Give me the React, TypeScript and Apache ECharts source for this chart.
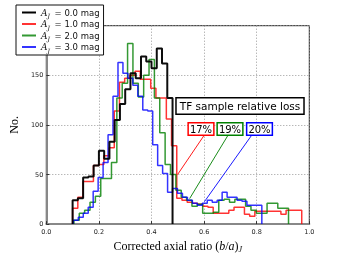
import React, { useEffect, useRef } from 'react';
import * as echarts from 'echarts';

// Histogram bins: start, bin width, counts per bin
const blackStart = 0.1;
const blackWidth = 0.02;
const blackCounts = [24, 26, 47, 48, 59, 74, 66, 83, 105, 121, 136, 152, 147, 169, 164, 157, 177, 162, 127];

const redStart = 0.1;
const redWidth = 0.0198;
const redCounts = [16, 27, 43, 43, 59, 60, 69, 77, 114, 143, 147, 150, 154, 146, 146, 137, 127, 127, 106, 79,
  26, 24, 22, 21, 20, 18, 17, 11, 11, 11, 14, 17, 17, 10, 8, 13, 13, 13, 13, 13, 10, 14, 14, 14];

const greenStart = 0.105;
const greenWidth = 0.0204;
const greenCounts = [4, 11, 14, 22, 28, 46, 46, 62, 127, 142, 182, 142, 128, 150, 166, 127, 92, 60, 50,
  34, 27, 24, 18, 20, 11, 11, 12, 24, 25, 22, 25, 25, 18, 14, 11, 11, 21, 21, 16, 16];

const blueStart = 0.1028;
const blueWidth = 0.01886;
const blueCounts = [4, 7, 11, 17, 33, 47, 62, 90, 129, 163, 152, 147, 140, 129, 115, 114, 80, 59, 51, 32,
  36, 31, 27, 24, 21, 19, 21, 24, 22, 24, 32, 27, 27, 24, 23, 19, 19, 19];

const seriesNames = ['A_J = 0.0 mag', 'A_J = 1.0 mag', 'A_J = 2.0 mag', 'A_J = 3.0 mag'];
const lossLabels = ['17%', '19%', '20%'];
// annotation leader lines in data coordinates: [from box, to histogram]
const redLeader = [[0.6086, 92.8], [0.499, 49.9]];
const greenLeader = [[0.6983, 92.8], [0.545, 25.7]];
const blueLeader = [[0.7895, 92.8], [0.601, 22.5]];

function stepData(start: number, width: number, counts: number[]) {
  const pts: number[][] = [[start, 0]];
  counts.forEach((c, i) => {
    pts.push([start + i * width, c]);
    pts.push([start + (i + 1) * width, c]);
  });
  pts.push([start + counts.length * width, 0]);
  return pts;
}

function leader(pts: number[][], color: string) {
  return {
    silent: true,
    symbol: ['none', 'none'],
    label: { show: false },
    lineStyle: { color, width: 1, type: 'solid', opacity: 0.9 },
    data: [[{ coord: pts[0] }, { coord: pts[1] }]],
  };
}

export default function App() {
  const ref = useRef<HTMLDivElement>(null);
  useEffect(() => {
    document.body.style.margin = '0';
    const chart = echarts.init(ref.current!, undefined, { renderer: 'svg' });
    const serif = 'Liberation Serif';
    const sans = 'DejaVu Sans';
    const mk = (name: string, color: string, width: number, data: number[][], opacity: number, ml?: any) => ({
      name,
      type: 'line',
      data,
      symbol: 'none',
      showSymbol: false,
      lineStyle: { color, width, opacity },
      itemStyle: { color },
      emphasis: { disabled: true },
      markLine: ml,
      z: 2,
    });
    const legendColors = ['#000000', '#ff0000', '#008000', '#0000ff'];
    chart.setOption({
      animation: false,
      grid: { left: 42.5, right: 34.7, top: 25.7, bottom: 26.5, show: true, borderColor: '#222', borderWidth: 1 },
      legend: {
        data: seriesNames.map((n, i) => ({ name: n, icon: 'rect', itemStyle: { color: legendColors[i], opacity: i === 0 ? 1 : 0.8 } })),
        left: 16,
        top: 5,
        orient: 'vertical',
        padding: [3, 4, 2, 6],
        itemGap: 1,
        itemWidth: 14,
        itemHeight: 2,
        backgroundColor: '#fff',
        borderColor: '#111',
        borderWidth: 1,
        borderRadius: 0,
        z: 10,
        formatter: (name: string) => `{a|A}{j|J}{t| = ${name.slice(6)}}`,
        textStyle: {
          fontFamily: sans,
          fontSize: 8.5,
          color: '#111',
          rich: {
            a: { fontFamily: 'DejaVu Serif', fontStyle: 'italic', fontSize: 9, lineHeight: 12, color: '#111' },
            j: { fontFamily: 'DejaVu Serif', fontStyle: 'italic', fontSize: 6, lineHeight: 6, verticalAlign: 'bottom', color: '#111' },
            t: { fontFamily: sans, fontSize: 8.5, lineHeight: 12, color: '#111', padding: [0, 0, 0, 2] },
          },
        },
      },
      xAxis: {
        type: 'value',
        min: 0,
        max: 1,
        interval: 0.2,
        name: '{n|Corrected axial ratio (}{i|b}{n|/}{i|a}{n|)}{s|J}',
        nameLocation: 'middle',
        nameGap: 14,
        nameTextStyle: {
          rich: {
            n: { fontFamily: serif, fontSize: 12, color: '#000', lineHeight: 14 },
            i: { fontFamily: serif, fontStyle: 'italic', fontSize: 12, color: '#000', lineHeight: 14 },
            s: { fontFamily: serif, fontStyle: 'italic', fontSize: 8, color: '#000', lineHeight: 8, verticalAlign: 'bottom' },
          },
        },
        axisLine: { show: true, lineStyle: { color: '#888', width: 2 } },
        axisTick: { show: true, inside: true, length: 3, lineStyle: { color: '#333' } },
        axisLabel: { fontFamily: sans, fontSize: 6.5, color: '#222', margin: 4, formatter: (v: number) => v.toFixed(1) },
        splitLine: { show: true, lineStyle: { color: '#999', type: [1, 2], width: 1 } },
      },
      yAxis: {
        type: 'value',
        min: 0,
        max: 200,
        interval: 50,
        name: 'No.',
        nameLocation: 'middle',
        nameGap: 22,
        nameTextStyle: { fontFamily: serif, fontSize: 12, color: '#000' },
        axisLine: { show: true, lineStyle: { color: '#888', width: 2 } },
        axisTick: { show: true, inside: true, length: 3, lineStyle: { color: '#333' } },
        axisLabel: { fontFamily: sans, fontSize: 6.5, color: '#222', margin: 3, formatter: (v: number) => (v >= 200 ? '' : String(v)) },
        splitLine: { show: true, lineStyle: { color: '#999', type: [1, 2], width: 1 } },
      },
      series: [
        mk(seriesNames[1], '#ff0000', 1.5, stepData(redStart, redWidth, redCounts), 0.8, leader(redLeader, '#ff0000')),
        mk(seriesNames[2], '#008000', 1.5, stepData(greenStart, greenWidth, greenCounts), 0.8, leader(greenLeader, '#008000')),
        mk(seriesNames[3], '#0000ff', 1.5, stepData(blueStart, blueWidth, blueCounts), 0.8, leader(blueLeader, '#0000ff')),
        mk(seriesNames[0], '#000000', 2, stepData(blackStart, blackWidth, blackCounts), 0.95),
      ],
      graphic: [
        {
          type: 'text',
          x: 240,
          y: 106,
          z: 20,
          style: {
            text: 'TF sample relative loss',
            fontFamily: sans,
            fontSize: 10.5,
            fill: '#000',
            align: 'center',
            verticalAlign: 'middle',
            backgroundColor: '#fff',
            borderColor: '#000',
            borderWidth: 1.5,
            padding: [2, 3, 2, 3],
          },
        },
        ...lossLabels.map((t, i) => ({
          type: 'text',
          x: [201, 230, 259.5][i],
          y: 129,
          z: 20,
          style: {
            text: t,
            fontFamily: sans,
            fontSize: 10,
            fill: '#000',
            align: 'center',
            verticalAlign: 'middle',
            backgroundColor: '#fff',
            borderColor: ['#ff0000', '#008000', '#0000ff'][i],
            borderWidth: 1.5,
            padding: [1, 1, 0, 1],
          },
        })),
      ],
    });
    return () => chart.dispose();
  }, []);
  return <div ref={ref} style={{ position: 'fixed', left: 0, top: 0, width: 344, height: 258 }} />;
}
